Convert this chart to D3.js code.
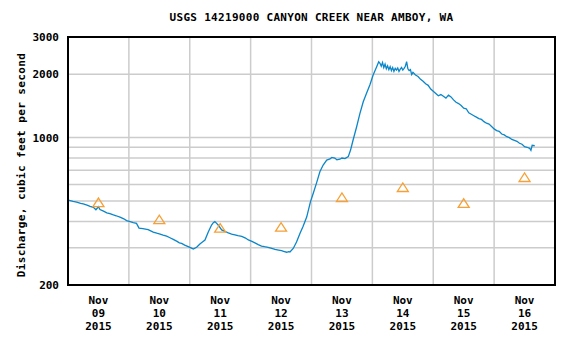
<!DOCTYPE html>
<html><head><meta charset="utf-8">
<script src="https://cdn.jsdelivr.net/npm/d3@7"></script>
<style>
body{margin:0;background:#fff}
text{font-family:"DejaVu Sans Mono",monospace;font-weight:bold;font-size:11px;fill:#000}
</style>
</head><body><svg id="c" width="564" height="340"></svg>
<script>
const title = "USGS 14219000 CANYON CREEK NEAR AMBOY, WA";
const yLabel = "Discharge, cubic feet per second";
const monthLabel = "Nov";
const yearLabel = "2015";
const dayLabels = ["09","10","11","12","13","14","15","16"];
const yTickValues = [200, 1000, 2000, 3000];
const yGridValues = [300, 400, 500, 600, 700, 800, 900, 1000, 2000];

// hours after 2015-11-09 00:00 and discharge (cfs)
const hours = [0,0.5,2,3.4,5,6,7.5,8.7,10,11,12,12.6,14,15.3,16.5,17.9,19,20.5,22,23.1,24.5,25.7,27,28,29.5,31.6,33.6,35,36.3,37.5,38.9,40,41.5,43,43.9,44.8,46,47.4,48.5,49.4,50.7,52,53,54,55.3,56.6,57.3,57.9,58.6,59.2,60.6,62,63.2,64.5,65.8,67,68.5,70,71.1,72.5,73.7,75,76.3,77.5,78.9,80,81.6,83,84.2,85,86.2,87,87.5,88.8,90.1,91.4,92.7,94.1,95.6,96.7,98,99.3,100.6,102,103.3,104,105.2,106,107.2,108,109.2,110.5,111.4,112.4,113.8,115.1,116.4,117.7,119,120.3,121.7,122.5,123,123.5,124,124.5,125,125.5,126,126.5,127,127.5,128,128.5,129,129.5,130,130.5,131,131.5,132,132.5,133,133.5,134,134.5,135,135.5,136,137,138,139,140,141,142,143,144,145,146,147,148,149,150,151,152,153,154,155,156,157,158,159,160,161,162,163,164,165,166,167,168,169,170,171,172,173,174,175,176,177,178,179,180,181,182,182.5,183,184];
const flow = [505,504,498,494,488,485,478,472,467,455,470,456,448,440,436,430,426,420,412,404,400,395,392,372,370,366,356,352,349,345,341,336,329,322,317,315,309,304,300,296,302,313,320,327,357,385,395,400,392,385,365,358,353,349,346,343,340,334,327,322,317,311,306,304,302,299,295,293,291,289,286,288,287,298,320,350,380,420,497,545,610,689,741,783,792,805,800,784,790,800,795,812,873,974,1126,1304,1480,1622,1776,1981,2169,2290,2251,2180,2270,2150,2230,2120,2190,2100,2170,2080,2150,2060,2130,2090,2140,2060,2110,2150,2090,2130,2180,2290,2120,2080,2100,1990,2040,1980,1950,1890,1850,1800,1770,1700,1660,1620,1580,1600,1570,1540,1590,1560,1510,1470,1450,1420,1380,1370,1310,1290,1270,1250,1230,1220,1190,1170,1160,1130,1100,1080,1070,1040,1030,1010,1000,980,970,960,940,930,905,900,890,870,920,915];

// median daily statistic, at noon of each day
const medianFlow = [492, 408, 372, 376, 520, 580, 488, 647];

const start = new Date(2015, 10, 9, 0, 0);
const end = new Date(2015, 10, 17, 0, 0);
const svg = d3.select("#c");
const L = 68, R = 555, T = 37, B = 285;

const x = d3.scaleTime().domain([start, end]).range([L, R]);
const y = d3.scaleLog().domain([200, 3000]).range([B, T]);

const days = d3.timeDay.range(d3.timeDay.offset(start, 1), end);

// grid
svg.append("g").selectAll("line").data(yGridValues).join("line")
  .attr("x1", L).attr("x2", R).attr("y1", d => y(d)).attr("y2", d => y(d))
  .attr("stroke", "#cccccc").attr("stroke-width", 1.5);
svg.append("g").selectAll("line").data(days).join("line")
  .attr("x1", d => x(d)).attr("x2", d => x(d)).attr("y1", T).attr("y2", B)
  .attr("stroke", "#cccccc").attr("stroke-width", 1.5);

// discharge line
const series = hours.map((h, i) => ({t: d3.timeMinute.offset(start, Math.round(h * 60)), v: flow[i]}));
svg.append("path").datum(series)
  .attr("fill", "none").attr("stroke", "#0a86c9").attr("stroke-width", 1.3)
  .attr("d", d3.line().x(d => x(d.t)).y(d => y(d.v)));

// median triangles
const med = medianFlow.map((v, i) => ({t: d3.timeHour.offset(start, 24 * i + 12), v}));
svg.append("g").selectAll("path").data(med).join("path")
  .attr("transform", d => `translate(${x(d.t)},${y(d.v)})`)
  .attr("d", "M-5.5,4L0,-4.5L5.5,4Z")
  .attr("fill", "none").attr("stroke", "#f7a035").attr("stroke-width", 1.3);

// frame
svg.append("rect").attr("x", L).attr("y", T).attr("width", R - L).attr("height", B - T)
  .attr("fill", "none").attr("stroke", "#000").attr("stroke-width", 2);

// y axis labels
const yAxis = d3.axisLeft(y).tickValues(yTickValues).tickFormat(d3.format("d")).tickSize(0).tickPadding(9);
const gy = svg.append("g").attr("transform", `translate(${L},0)`).call(yAxis);
gy.select(".domain").remove();
gy.selectAll("text").attr("font-family", null).attr("font-size", null).attr("fill", null).attr("dy", "0.32em");

// x axis labels
const gx = svg.append("g");
dayLabels.forEach((lab, i) => {
  const cx = x(d3.timeHour.offset(start, 24 * i + 12));
  const t = gx.append("text").attr("text-anchor", "middle");
  t.append("tspan").attr("x", cx).attr("y", 304).text(monthLabel);
  t.append("tspan").attr("x", cx).attr("y", 317).text(lab);
  t.append("tspan").attr("x", cx).attr("y", 330).text(yearLabel);
});

// title
svg.append("text").attr("x", (L + R) / 2).attr("y", 21).attr("text-anchor", "middle")
  .style("letter-spacing", "0.3px").text(title);

// y label
svg.append("text").attr("transform", "translate(25,165) rotate(-90)").attr("text-anchor", "middle")
  .style("letter-spacing", "0.4px").text(yLabel);
</script>
</body></html>
